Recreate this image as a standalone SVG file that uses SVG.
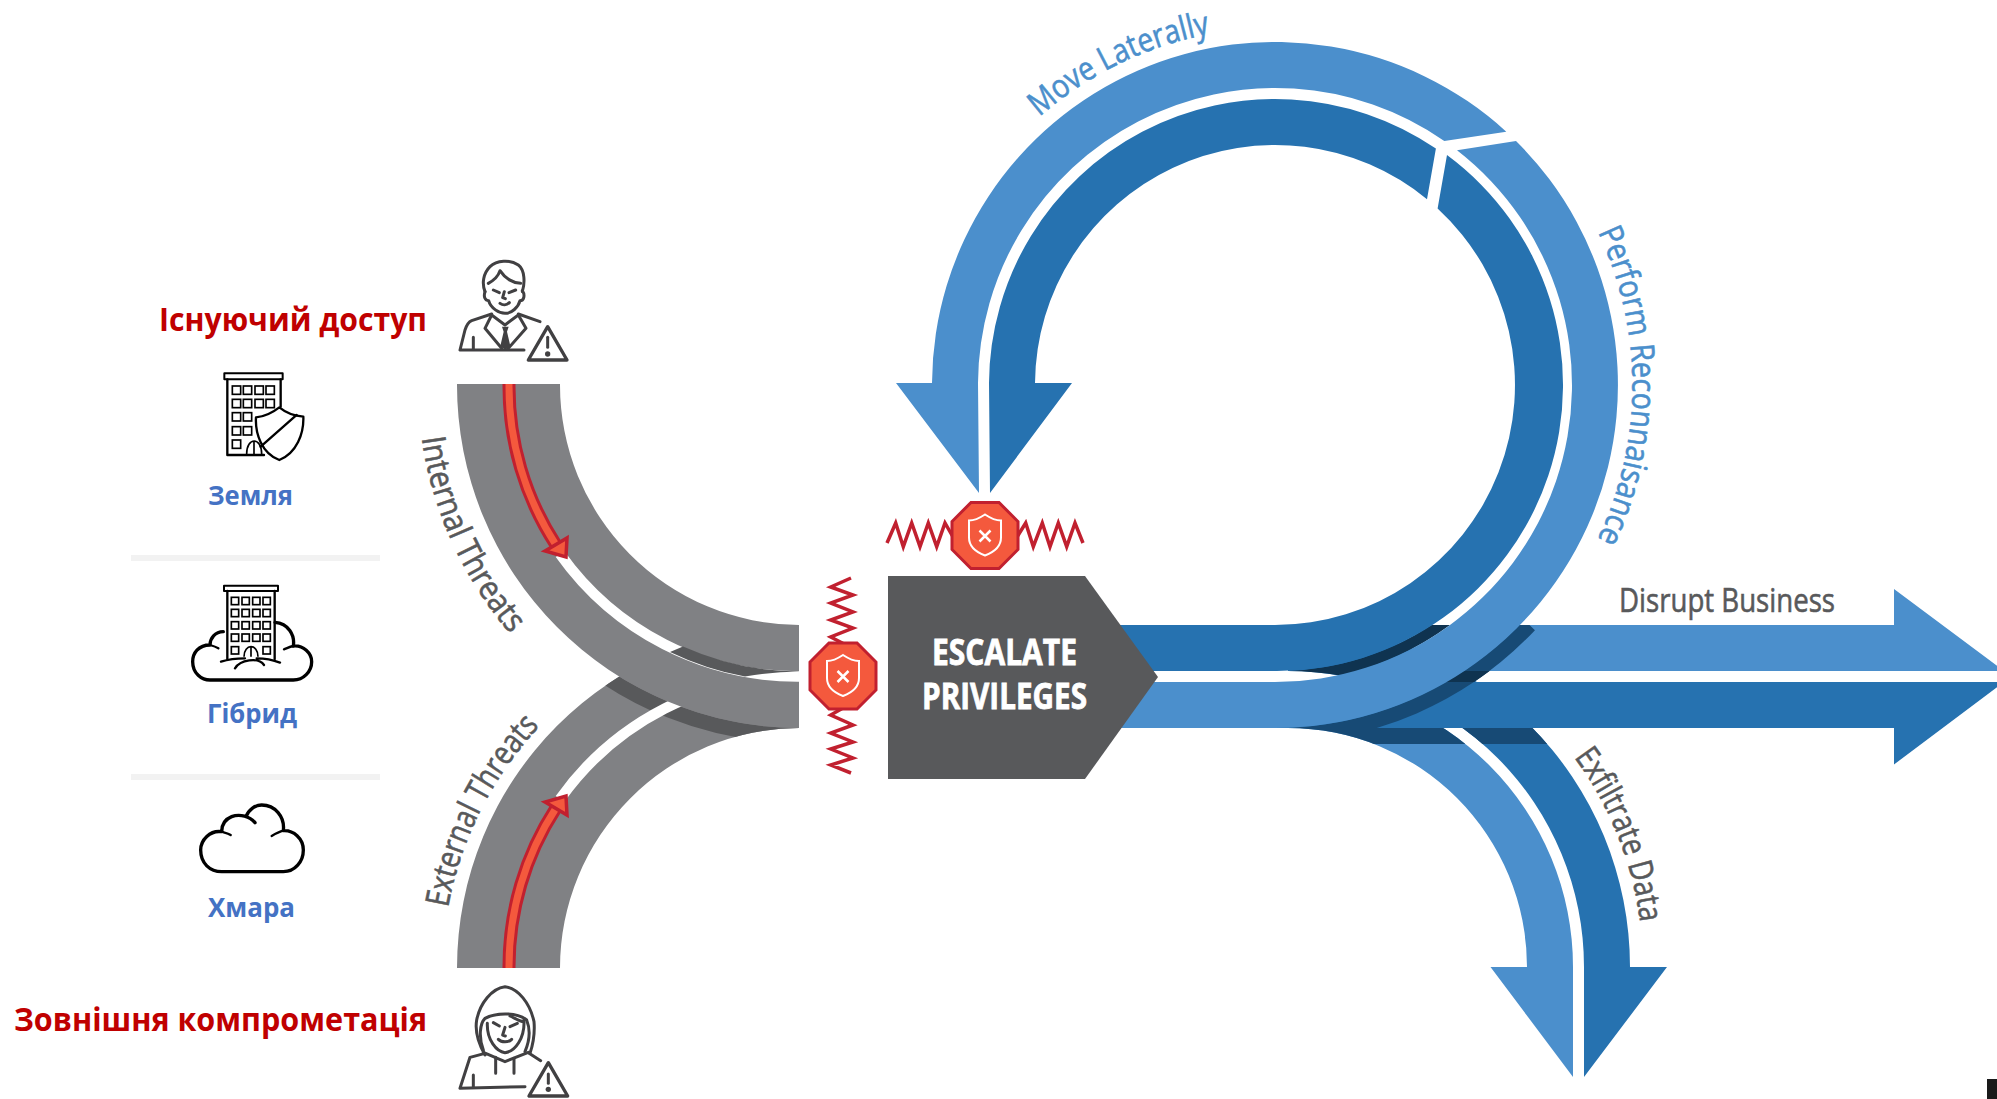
<svg xmlns="http://www.w3.org/2000/svg" width="1997" height="1099" viewBox="0 0 1997 1099">
<style>
.g{fill:#808184}.lb{fill:#4B8FCC}.db{fill:#2672B0}.sh{fill:#174A75}.nv{fill:#0F3350}
.lbl{font-family:"Open Sans","Noto Sans",sans-serif;font-size:33px;stroke-width:.6px}
.gt{fill:#58595B;stroke:#58595B}.bt{fill:#4B8FCC;stroke:#4B8FCC}
.ua{font-family:"Open Sans","Noto Sans",sans-serif;font-weight:700}
.red{fill:#C00000;font-size:32px}.blu{fill:#4472C4;font-size:27px}
.ic{fill:none;stroke:#414042;stroke-width:9;stroke-linecap:round;stroke-linejoin:round}
.bk{fill:none;stroke:#000;stroke-linejoin:round;stroke-linecap:round}
.win{fill:none;stroke:#000;stroke-width:5}
.zz{fill:none;stroke:#C1202F;stroke-width:3.5;stroke-linejoin:miter}
.wt{fill:#fff;stroke:#fff;stroke-width:.8px;font-size:35px}
</style>
<defs>
<clipPath id="extClip"><path d="M457 968A343 343 0 0 1 799 625L799 728A240 240 0 0 0 560 968Z"/></clipPath>
<clipPath id="downClip"><path d="M1288 682A285 285 0 0 1 1573 967L1573 1077L1490.500 967L1527 967A239 239 0 0 0 1288 728Z"/><path d="M1288 625A342 342 0 0 1 1630 967L1667 967L1584 1077L1584 967A296 296 0 0 0 1288 671Z"/></clipPath>
<clipPath id="hClip"><rect x="1275" y="625" width="400" height="103"/></clipPath>
<clipPath id="gapClip"><rect x="1275" y="671" width="400" height="11"/></clipPath>
<path id="tInt" d="M421.700 438A382 382 0 0 0 530 655"/>
<path id="tExt" d="M448.200 907.600A357 357 0 0 1 572 696"/>
<path id="tMove" d="M1039.400 116.800A357 357 0 0 1 1275 28"/>
<path id="tPerf" d="M1597.800 232A358 358 0 0 1 1549 615"/>
<path id="tExf" d="M1574 757A355 355 0 0 1 1643 967"/>
<g id="stop">
<polygon points="-14,-33 14,-33 33,-14 33,14 14,33 -14,33 -33,14 -33,-14" fill="#F4593D" stroke="#C1202F" stroke-width="3"/>
<path d="M0 -21C-6 -17 -11 -15 -16 -15L-16 2C-16 11 -8 17 0 20C8 17 16 11 16 2L16 -15C11 -15 6 -17 0 -21Z" fill="none" stroke="#fff" stroke-width="2"/>
<path d="M-5.500 -5L5.500 6M5.500 -5L-5.500 6" fill="none" stroke="#fff" stroke-width="2.500"/>
</g>
<path id="warn" d="M0 0L-58 100L58 100Z"/>
</defs>

<g id="dividers">
<rect x="131" y="555" width="249" height="6" fill="#F2F2F2"/>
<rect x="131" y="774" width="249" height="6" fill="#F2F2F2"/>
</g>

<g id="connectors">
<g id="external-threats">
<path class="g" d="M457 968A343 343 0 0 1 799 625L799 728A240 240 0 0 0 560 968Z"/>
<g clip-path="url(#extClip)"><path d="M449.500 385A350.500 350.500 0 0 0 800 735.500" fill="none" stroke="#58595B" stroke-width="15"/></g>
<path d="M560 799A291.500 291.500 0 0 1 799 676.500" fill="none" stroke="#fff" stroke-width="10.500"/>
<path d="M509 968A291 291 0 0 1 556 808" fill="none" stroke="#C1202F" stroke-width="13"/>
<path d="M509 968A291 291 0 0 1 556 808" fill="none" stroke="#F4593D" stroke-width="7"/>
<polygon points="545,802 567,815 566,796" fill="#F4593D" stroke="#C1202F" stroke-width="3.500"/>
</g>
<g id="internal-threats">
<path class="g" d="M457 384A343 343 0 0 0 799 728L799 625A240 240 0 0 1 560 384Z"/>
<path d="M560 554A291.500 291.500 0 0 0 799 676.500" fill="none" stroke="#fff" stroke-width="10.500"/>
<path fill="#58595B" d="M683 646.500A286.500 286.500 0 0 0 799 671.500A296.500 296.500 0 0 0 745 676.600A297 297 0 0 1 670 652Z"/>
<path d="M509 384A291 291 0 0 0 556 545" fill="none" stroke="#C1202F" stroke-width="13"/>
<path d="M509 384A291 291 0 0 0 556 545" fill="none" stroke="#F4593D" stroke-width="7"/>
<polygon points="545,551 567,538 566,557" fill="#F4593D" stroke="#C1202F" stroke-width="3.500"/>
</g>
<g id="exit-arrows">
<path class="lb" d="M1288 682A285 285 0 0 1 1573 967L1573 1077L1490.500 967L1527 967A239 239 0 0 0 1288 728Z"/>
<path class="db" d="M1288 625A342 342 0 0 1 1630 967L1667 967L1584 1077L1584 967A296 296 0 0 0 1288 671Z"/>
<g clip-path="url(#downClip)"><rect class="sh" x="1280" y="728" width="380" height="16"/></g>
<polygon class="lb" points="1460,625 1894,625 1894,589 2004,671 1460,671"/>
<polygon class="db" points="1275,682 2004,682 1894,764.500 1894,728 1275,728"/>
<g clip-path="url(#hClip)"><path d="M1275 735.500A350.500 350.500 0 0 0 1529.500 625" fill="none" stroke="#174A75" stroke-width="15"/></g>
<g clip-path="url(#gapClip)"><path d="M1275 735.500A350.500 350.500 0 0 0 1529.500 625" fill="none" stroke="#0F3350" stroke-width="15"/></g>
</g>
<g id="loop">
<path class="nv" d="M1431.400 625A286.500 286.500 0 0 1 1288 671A296 296 0 0 1 1340 675.600A297 297 0 0 0 1450 625Z"/>
<path class="db" d="M1100 671L1275 671A286 286 0 0 0 1447 155L1437.600 208.500A240 240 0 0 1 1275 625L1100 625Z"/>
<path class="db" d="M1435.900 148.600A286 286 0 0 0 989 383L990 493L1072 383L1035 383A240 240 0 0 1 1427 199.200Z"/>
<path class="lb" d="M1100 728L1275 728A343 343 0 0 0 1516 141L1457 150.300A297 297 0 0 1 1275 682L1100 682Z"/>
<path class="lb" d="M1506.300 131.700A343 343 0 0 0 932 383L896 383L979 493L978 383A297 297 0 0 1 1444.300 141Z"/>
</g>
</g>

<g id="labels">
<text class="lbl gt"><textPath href="#tInt" textLength="218" lengthAdjust="spacingAndGlyphs">Internal Threats</textPath></text>
<text class="lbl gt"><textPath href="#tExt" textLength="206" lengthAdjust="spacingAndGlyphs">External Threats</textPath></text>
<text class="lbl bt"><textPath href="#tMove" textLength="192" lengthAdjust="spacingAndGlyphs">Move Laterally</textPath></text>
<text class="lbl bt"><textPath href="#tPerf" textLength="318" lengthAdjust="spacingAndGlyphs">Perform Reconnaisance</textPath></text>
<text class="lbl gt"><textPath href="#tExf" textLength="180" lengthAdjust="spacingAndGlyphs">Exfiltrate Data</textPath></text>
<text class="lbl gt" x="1619" y="612" textLength="216" lengthAdjust="spacingAndGlyphs">Disrupt Business</text>
</g>

<g id="escalate-privileges">
<polygon points="888,576 1085,576 1158,677 1085,779 888,779" fill="#58595B"/>
<text class="ua wt" x="932" y="665" textLength="145" lengthAdjust="spacingAndGlyphs">ESCALATE</text>
<text class="ua wt" x="922" y="709" textLength="165" lengthAdjust="spacingAndGlyphs">PRIVILEGES</text>
</g>

<g id="block-top">
<path class="zz" d="M887 543L895.700 523L903.300 546.700L911.700 523L920 546.700L928.300 523L936.700 546.700L945 523L953 537"/>
<path class="zz" d="M1017 537L1025.700 523L1033.300 546.700L1042.300 523L1050 546.700L1058.300 523L1066.700 546.700L1075 523L1083 543"/>
<use href="#stop" x="985" y="535.500"/>
</g>
<g id="block-left">
<path class="zz" d="M851 578L830.700 587L853 595L830.700 603L853 612L830.700 620L853 628L830.700 637L848 646"/>
<path class="zz" d="M843 708L830.700 715L853 725L830.700 733L853 742L830.700 749L853 758L830.700 765L851 773"/>
<use href="#stop" x="843" y="676"/>
</g>

<g id="insider-icon" transform="translate(450 250) scale(.33333)">
<path class="ic" d="M105 125C95 100 100 70 120 50C140 30 180 28 205 45C225 60 225 100 217 125"/>
<path class="ic" d="M105 125C100 140 105 152 116 152C122 175 148 190 165 190C185 190 205 172 210 152C222 152 226 135 217 122"/>
<path class="ic" stroke-width="6" d="M115 100C130 92 145 78 150 62C165 85 190 100 212 100"/>
<path class="ic" stroke-width="7" d="M130 120L148 128M197 120L177 128M163 125L158 143L166 146M150 160C158 166 170 166 178 158"/>
<path class="ic" d="M125 192L65 212C55 216 50 225 45 240L30 300L222 300M205 192L270 215"/>
<path class="ic" stroke-width="6" d="M125 195L105 235L155 295M205 195L228 235L175 295M125 195L165 225L205 195M70 262L70 298"/>
<path d="M156 230L176 230L171 245L181 288L166 300L151 288L161 245Z" fill="#414042"/>
<use href="#warn" transform="translate(293 230)" fill="#fff" stroke="#414042" stroke-width="10" stroke-linejoin="round"/>
<path class="ic" stroke-width="12" d="M293 262L293 292"/><circle cx="293" cy="312" r="8" fill="#414042"/>
</g>

<g id="attacker-icon" transform="translate(430 940) scale(.33333)">
<path class="ic" d="M165 345C145 310 135 270 140 240C150 190 185 145 225 140C265 145 300 190 312 245C315 280 310 310 300 340"/>
<path class="ic" stroke-width="7" d="M160 330C145 290 150 250 165 235C195 218 260 215 290 240C300 265 300 300 285 335"/>
<path class="ic" stroke-width="7" d="M172 250C170 300 200 335 225 338C255 335 285 295 282 238"/>
<path class="ic" stroke-width="6" d="M240 228C255 235 270 245 280 245"/>
<path class="ic" stroke-width="6" d="M190 248L208 258M262 250L240 260M225 262L218 285L226 288M205 298C215 308 235 308 245 298"/>
<path class="ic" d="M160 337L225 365L295 337M165 340L120 352L90 445L285 440M295 338L332 362"/>
<path class="ic" stroke-width="6" d="M197 352L197 400M252 355L252 400M130 405L130 440"/>
<use href="#warn" transform="translate(355 368)" fill="#fff" stroke="#414042" stroke-width="10" stroke-linejoin="round"/>
<path class="ic" stroke-width="12" d="M355 402L355 430"/><circle cx="355" cy="448" r="8" fill="#414042"/>
</g>

<g id="ground" transform="translate(120 240) scale(.33333)">
<rect x="313" y="400" width="175" height="18" class="bk" stroke-width="6"/>
<path class="bk" stroke-width="7" d="M322 418L322 645L432 645M482 418L482 500"/>
<g class="win">
<rect x="337" y="438" width="25" height="25"/><rect x="370" y="438" width="25" height="25"/><rect x="405" y="438" width="25" height="25"/><rect x="438" y="438" width="25" height="25"/>
<rect x="337" y="478" width="25" height="25"/><rect x="370" y="478" width="25" height="25"/><rect x="405" y="478" width="25" height="25"/><rect x="438" y="478" width="25" height="25"/>
<rect x="337" y="518" width="25" height="25"/><rect x="370" y="518" width="25" height="25"/>
<rect x="337" y="560" width="25" height="25"/><rect x="370" y="560" width="25" height="25"/>
<rect x="337" y="600" width="25" height="25"/>
<path d="M380 642C380 590 425 590 425 642M402 605L402 642"/>
</g>
<path class="bk" style="fill:#fff" stroke-width="7" d="M478 502C455 520 430 530 408 532C405 580 425 640 478 660C530 640 552 580 550 530C525 528 500 520 478 502Z"/>
<path class="bk" stroke-width="7" d="M422 620L530 525"/>
</g>
<text class="ua blu" x="208" y="505" textLength="85" lengthAdjust="spacingAndGlyphs">Земля</text>

<g id="hybrid" transform="translate(160 560) scale(.33333)">
<path class="bk" stroke-width="10" d="M190 215C165 215 150 235 150 255C115 255 98 280 98 305C98 340 125 360 150 360L400 360C430 360 455 335 455 305C455 280 430 255 400 258C405 225 385 190 345 187"/>
<path class="bk" stroke-width="7" d="M150 255C160 258 170 262 175 265M400 258C390 260 380 265 372 268"/>
<rect x="192" y="77" width="162" height="16" class="bk" stroke-width="6"/>
<path class="bk" stroke-width="7" d="M202 93L202 298M344 93L344 298"/>
<g class="win">
<rect x="214" y="112" width="22" height="22"/><rect x="246" y="112" width="22" height="22"/><rect x="278" y="112" width="22" height="22"/><rect x="309" y="112" width="22" height="22"/>
<rect x="214" y="148" width="22" height="22"/><rect x="246" y="148" width="22" height="22"/><rect x="278" y="148" width="22" height="22"/><rect x="309" y="148" width="22" height="22"/>
<rect x="214" y="185" width="22" height="22"/><rect x="246" y="185" width="22" height="22"/><rect x="278" y="185" width="22" height="22"/><rect x="309" y="185" width="22" height="22"/>
<rect x="214" y="222" width="22" height="22"/><rect x="246" y="222" width="22" height="22"/><rect x="278" y="222" width="22" height="22"/><rect x="309" y="222" width="22" height="22"/>
<rect x="214" y="260" width="22" height="22"/><rect x="309" y="260" width="22" height="22"/>
<path d="M252 290C252 250 294 250 294 290M273 262L273 290"/>
</g>
<path class="bk" stroke-width="7" d="M183 305C205 298 230 295 255 295M290 295C315 295 340 300 360 308M225 325C240 300 295 290 312 315"/>
</g>
<text class="ua blu" x="207" y="723" textLength="90" lengthAdjust="spacingAndGlyphs">Гібрид</text>

<g id="cloud" transform="translate(160 560) scale(.33333)">
<path class="bk" stroke-width="10" d="M285 788C270 770 240 760 215 770C195 778 185 795 185 815C150 810 122 840 122 870C122 910 150 935 185 935L370 935C405 935 430 905 430 870C430 835 400 810 370 812C375 770 345 735 305 735C285 735 265 750 258 770"/>
<path class="bk" stroke-width="7" d="M185 815C195 818 205 820 212 825M370 812C358 815 345 822 335 828"/>
</g>
<text class="ua blu" x="208" y="917" textLength="87" lengthAdjust="spacingAndGlyphs">Хмара</text>

<g id="captions">
<text class="ua red" x="159" y="331" textLength="268" lengthAdjust="spacingAndGlyphs">Існуючий доступ</text>
<text class="ua red" x="14" y="1031" textLength="413" lengthAdjust="spacingAndGlyphs">Зовнішня компрометація</text>
</g>
<rect x="1987" y="1079" width="10" height="20" fill="#1a1a1a"/>
</svg>
